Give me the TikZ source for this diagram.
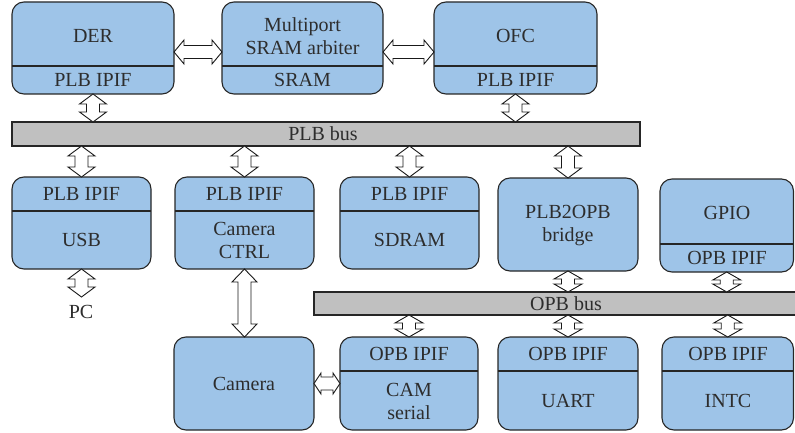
\documentclass[tikz,border=0pt]{standalone}
\usepackage{fontspec}
\setmainfont{Liberation Serif}
\usetikzlibrary{calc}
\definecolor{boxblue}{RGB}{158,196,232}
\definecolor{busgray}{RGB}{192,192,192}
\definecolor{txt}{RGB}{45,45,45}
\tikzset{
  box/.style={draw=black!85, line width=1.1pt, fill=boxblue, rounded corners=12pt, inner sep=0pt, outer sep=0pt},
  bus/.style={draw=black!85, line width=1.1pt, fill=busgray, inner sep=0pt, outer sep=0pt},
  divl/.style={draw=black!85, line width=1.1pt},
  arr/.style={draw=black!90, fill=white, line width=0.9pt, line join=miter},
  lbl/.style={text=txt, font=\fontsize{20}{23}\selectfont, align=center, inner sep=0pt}
}
% vertical double arrow: top, bottom, half head width, half shaft width, head length
\newcommand\VArr[5]{\draw[arr] let \p1=#1, \p2=#2 in
  (\x1,\y1) -- (\x1+#3pt,\y1-#5pt) -- (\x1+#4pt,\y1-#5pt) -- (\x1+#4pt,\y2+#5pt) -- (\x1+#3pt,\y2+#5pt) -- (\x1,\y2)
  -- (\x1-#3pt,\y2+#5pt) -- (\x1-#4pt,\y2+#5pt) -- (\x1-#4pt,\y1-#5pt) -- (\x1-#3pt,\y1-#5pt) -- cycle;}
% horizontal double arrow: left, right, half head width, half shaft width, head length
\newcommand\HArr[5]{\draw[arr] let \p1=#1, \p2=#2 in
  (\x1,\y1) -- (\x1+#5pt,\y1+#3pt) -- (\x1+#5pt,\y1+#4pt) -- (\x2-#5pt,\y1+#4pt) -- (\x2-#5pt,\y1+#3pt) -- (\x2,\y1)
  -- (\x2-#5pt,\y1-#3pt) -- (\x2-#5pt,\y1-#4pt) -- (\x1+#5pt,\y1-#4pt) -- (\x1+#5pt,\y1-#3pt) -- cycle;}
\newcommand\blk[5]{\node[box, minimum width={#4pt-#2pt}, minimum height={#5pt-#3pt}, anchor=north west] (#1) at (#2,#3) {};}
\newcommand\dv[2]{\draw[divl] (#1.west |- 0,#2) -- (#1.east |- 0,#2);}
\begin{document}
\begin{tikzpicture}[x=1pt,y=-1pt]
\useasboundingbox (0,0) rectangle (795,433);
% boxes
\blk{der}{12}{2}{174}{94}\dv{der}{66}
\blk{sram}{222}{2}{383}{94}\dv{sram}{66}
\blk{ofc}{434}{2}{597}{94}\dv{ofc}{66}
\blk{usb}{12}{177}{151}{269}\dv{usb}{211}
\blk{camctrl}{175}{177}{314}{269}\dv{camctrl}{211}
\blk{sdram}{340}{177}{479}{269}\dv{sdram}{211}
\blk{bridge}{498}{178}{638}{271}
\blk{gpio}{660}{179}{793.5}{272}\dv{gpio}{244}
\blk{camera}{174}{337}{314}{430}
\blk{camserial}{340}{337}{478}{430}\dv{camserial}{371}
\blk{uart}{498}{337}{638}{430}\dv{uart}{371}
\blk{intc}{662}{337}{793.5}{430}\dv{intc}{371}
% buses
\node[bus, minimum width=628pt, minimum height=24pt, anchor=north west] (plb) at (12,122) {};
\node[bus, minimum width=520pt, minimum height=23pt, anchor=north west] (opb) at (314,292) {};
% labels
\node[lbl] (t1) at (93,36) {DER};
\node[lbl] (t2) at (93,80) {PLB IPIF};
\node[lbl] (t3) at (302.5,36) {Multiport\\SRAM arbiter};
\node[lbl] (t4) at (302.5,80) {SRAM};
\node[lbl] (t5) at (515.5,36) {OFC};
\node[lbl] (t6) at (515.5,80) {PLB IPIF};
\node[lbl] (t7) at (323,134) {PLB bus};
\node[lbl] (t8) at (81.5,194) {PLB IPIF};
\node[lbl] (t9) at (81.5,240) {USB};
\node[lbl] (t10) at (244.5,194) {PLB IPIF};
\node[lbl] (t11) at (244.5,240) {Camera\\CTRL};
\node[lbl] (t12) at (409.5,194) {PLB IPIF};
\node[lbl] (t13) at (409.5,240) {SDRAM};
\node[lbl] (t14) at (568,226) {PLB2OPB\\bridge};
\node[lbl] (t15) at (727,213) {GPIO};
\node[lbl] (t16) at (727,258) {OPB IPIF};
\node[lbl] (t17) at (566,304) {OPB bus};
\node[lbl] (pc) at (81,312) {PC};
\node[lbl] (t18) at (244,384) {Camera};
\node[lbl] (t19) at (409,354) {OPB IPIF};
\node[lbl] (t20) at (409,401) {CAM\\serial};
\node[lbl] (t21) at (568,354) {OPB IPIF};
\node[lbl] (t22) at (568,401) {UART};
\node[lbl] (t23) at (728,354) {OPB IPIF};
\node[lbl] (t24) at (728,401) {INTC};
% arrows
\coordinate (hy) at (0,52);
\coordinate (pcend) at (81.5,297);
\HArr{(der.east |- hy)}{(sram.west |- hy)}{12}{6.5}{10}
\HArr{(sram.east |- hy)}{(ofc.west |- hy)}{12}{6.5}{10}
\VArr{(der.south)}{(der.south |- plb.north)}{13.5}{6.5}{10}
\VArr{(ofc.south)}{(ofc.south |- plb.north)}{13.5}{6.5}{10}
\VArr{(usb.north |- plb.south)}{(usb.north)}{13.5}{6.5}{10}
\VArr{(camctrl.north |- plb.south)}{(camctrl.north)}{13.5}{6.5}{10}
\VArr{(sdram.north |- plb.south)}{(sdram.north)}{13.5}{6.5}{10}
\VArr{(bridge.north |- plb.south)}{(bridge.north)}{13.5}{6.5}{10}
\VArr{(usb.south)}{(pcend)}{13.5}{6.5}{10}
\VArr{(camctrl.south)}{(camctrl.south |- camera.north)}{12.5}{6.5}{13}
\HArr{(camera.east)}{(camserial.west |- camera.east)}{10.5}{6.5}{7}
\VArr{(bridge.south)}{(bridge.south |- opb.north)}{14}{6.5}{8}
\VArr{(gpio.south)}{(gpio.south |- opb.north)}{14}{6.5}{8}
\VArr{(camserial.north |- opb.south)}{(camserial.north)}{14}{6.5}{8}
\VArr{(uart.north |- opb.south)}{(uart.north)}{14}{6.5}{8}
\VArr{(intc.north |- opb.south)}{(intc.north)}{14}{6.5}{8}
\end{tikzpicture}
\end{document}
